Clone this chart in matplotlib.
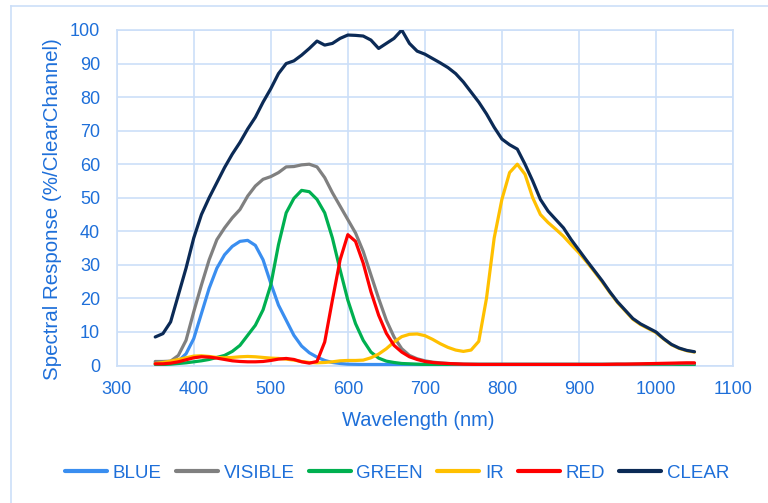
import matplotlib
matplotlib.use("Agg")
import matplotlib.pyplot as plt
from matplotlib.lines import Line2D

plt.rcParams['font.family'] = ['Liberation Sans', 'DejaVu Sans']

wavelength = list(range(350, 1051, 10))

clear = [8.5, 9.5, 13, 21, 29, 38, 45, 50, 54.5, 59,
         63, 66.5, 70.5, 74, 78.5, 82.5, 87, 90, 90.8, 92.5,
         94.5, 96.7, 95.5, 96, 97.5, 98.5, 98.4, 98.2, 97, 94.5,
         96, 97.5, 100, 96, 93.7, 92.8, 91.5, 90.2, 88.8, 87,
         84.5, 81.5, 78.5, 75, 71, 67.5, 65.8, 64.5, 60, 55,
         49.5, 46, 43.5, 41, 37.5, 34.4, 31.3, 28.3, 25.3, 22,
         19, 16.5, 14, 12.4, 11.2, 10, 8, 6.3, 5.2, 4.5, 4.1]

ir = [0.6, 0.9, 1.3, 1.8, 2.3, 2.8, 2.9, 2.7, 2.4, 2.3,
      2.4, 2.6, 2.7, 2.6, 2.4, 2.2, 2.1, 1.9, 1.6, 1.2,
      0.9, 0.8, 0.9, 1.1, 1.4, 1.5, 1.5, 1.6, 2.3, 3.4,
      5.0, 7.0, 8.6, 9.3, 9.4, 8.9, 7.8, 6.5, 5.4, 4.6,
      4.2, 4.6, 7.2, 20, 38, 49.5, 57.5, 60, 57, 50,
      45, 42.6, 40.6, 38.5, 36, 33.6, 30.9, 28, 25, 21.8,
      18.8, 16.3, 13.8, 12.2, 11, 9.8, 7.9, 6.2, 5.1, 4.4, 4.0]

blue = [0.8, 0.8, 0.9, 1.3, 3.5, 8, 15.5, 23, 29, 33,
        35.5, 37, 37.3, 35.8, 31.5, 24.5, 18, 13.5, 9, 5.8,
        3.8, 2.5, 1.5, 0.9, 0.6, 0.4, 0.35, 0.3, 0.3, 0.3,
        0.3, 0.3, 0.3, 0.3, 0.3, 0.3, 0.3, 0.3, 0.3, 0.3,
        0.3, 0.3, 0.3, 0.3, 0.3, 0.3, 0.3, 0.3, 0.3, 0.3,
        0.3, 0.3, 0.3, 0.3, 0.3, 0.3, 0.3, 0.3, 0.3, 0.3,
        0.3, 0.3, 0.3, 0.3, 0.3, 0.3, 0.3, 0.3, 0.3, 0.3, 0.3]

visible = [1.2, 1.2, 1.3, 3, 7.5, 16, 24, 31.5, 37.5, 41,
           44, 46.5, 50.5, 53.5, 55.5, 56.3, 57.5, 59.2, 59.3, 59.8,
           60, 59.2, 56, 51.5, 47.5, 43.5, 39.5, 34, 27, 20,
           13.5, 8.5, 5, 3, 2, 1.4, 1.0, 0.8, 0.6, 0.5,
           0.4, 0.4, 0.4, 0.4, 0.4, 0.4, 0.4, 0.4, 0.4, 0.4,
           0.4, 0.4, 0.4, 0.4, 0.4, 0.4, 0.4, 0.4, 0.4, 0.4,
           0.4, 0.4, 0.4, 0.4, 0.5, 0.5, 0.5, 0.5, 0.6, 0.6, 0.6]

green = [0.3, 0.3, 0.4, 0.6, 0.8, 1.1, 1.4, 1.8, 2.4, 3.0,
         4.2, 6, 9, 12, 16.6, 24, 36, 45.5, 49.8, 52.2,
         51.8, 49.5, 45.5, 38, 28.5, 19.5, 12.5, 7.5, 4, 2.2,
         1.3, 0.9, 0.6, 0.5, 0.4, 0.3, 0.3, 0.3, 0.3, 0.3,
         0.3, 0.3, 0.3, 0.3, 0.3, 0.3, 0.3, 0.3, 0.3, 0.3,
         0.3, 0.3, 0.3, 0.3, 0.3, 0.3, 0.3, 0.3, 0.3, 0.3,
         0.3, 0.3, 0.3, 0.3, 0.3, 0.3, 0.3, 0.3, 0.3, 0.3, 0.3]

red = [0.5, 0.5, 0.7, 1.1, 1.7, 2.3, 2.6, 2.5, 2.2, 1.8,
       1.4, 1.2, 1.1, 1.1, 1.2, 1.5, 1.9, 2.1, 1.8, 1.1,
       0.7, 1.2, 7, 19.5, 31.5, 39, 37, 30.5, 22, 15,
       9.6, 6, 4, 2.6, 1.8, 1.2, 0.9, 0.7, 0.6, 0.5,
       0.4, 0.35, 0.3, 0.3, 0.3, 0.3, 0.3, 0.3, 0.3, 0.3,
       0.3, 0.3, 0.3, 0.3, 0.3, 0.3, 0.3, 0.3, 0.3, 0.35,
       0.4, 0.4, 0.45, 0.5, 0.55, 0.6, 0.65, 0.7, 0.75, 0.8, 0.8]

series_names = ["BLUE", "VISIBLE", "GREEN", "IR", "RED", "CLEAR"]
series_values = [blue, visible, green, ir, red, clear]
series_colors = ["#3A8EF0", "#808080", "#00B050", "#FFC000", "#FF0000", "#0B2A56"]
draw_order = ["BLUE", "GREEN", "VISIBLE", "IR", "RED", "CLEAR"]

x_ticks = [300, 400, 500, 600, 700, 800, 900, 1000, 1100]
y_ticks = [0, 10, 20, 30, 40, 50, 60, 70, 80, 90, 100]

text_color = "#1E6FD9"
grid_color = "#CCDFF8"

W, H = 768, 503
fig = plt.figure(figsize=(W / 100, H / 100), dpi=100)
ax = fig.add_axes([116.7 / W, 1 - 365.5 / H, (733 - 116.7) / W, (365.5 - 30) / H])

handles = {}
for name, vals, col in zip(series_names, series_values, series_colors):
    z = 3 + draw_order.index(name)
    (ln,) = ax.plot(wavelength, vals, color=col, lw=2.3, zorder=z,
                    solid_joinstyle="round", solid_capstyle="round")
    handles[name] = ln

ax.set_xlim(300, 1100)
ax.set_ylim(0, 100)
ax.set_xticks(x_ticks)
ax.set_yticks(y_ticks)
ax.grid(True, color=grid_color, lw=1.2, zorder=0)
ax.set_axisbelow(True)
for s in ax.spines.values():
    s.set_color(grid_color)
    s.set_linewidth(1.2)
ax.tick_params(axis="both", length=0, labelsize=13, colors=text_color)
ax.tick_params(axis="y", pad=12)
ax.tick_params(axis="x", pad=11)

fig.text(418 / W, 1 - 420 / H, "Wavelength (nm)", ha="center", va="center",
         fontsize=14.5, color=text_color)
fig.text(53 / W, 1 - 209 / H, "Spectral Response (%/ClearChannel)", ha="center",
         va="center", rotation=90, fontsize=14.8, color=text_color)

leg = fig.legend([handles[n] for n in series_names], series_names,
                 loc="center", bbox_to_anchor=(397 / W, 1 - 473 / H), ncol=6,
                 frameon=False, fontsize=13.5, handlelength=2.25,
                 handletextpad=0.3, columnspacing=0.75)
for t in leg.get_texts():
    t.set_color(text_color)
for l in leg.get_lines():
    l.set_linewidth(3)

# outer chart border (partially visible)
fig.add_artist(Line2D([11 / W, 1.0], [1 - 6 / H, 1 - 6 / H], color=grid_color, lw=1.2,
                      transform=fig.transFigure))
fig.add_artist(Line2D([11 / W, 11 / W], [1 - 6 / H, 0.0], color=grid_color, lw=1.2,
                      transform=fig.transFigure))

fig.savefig("out.png", dpi=100)
